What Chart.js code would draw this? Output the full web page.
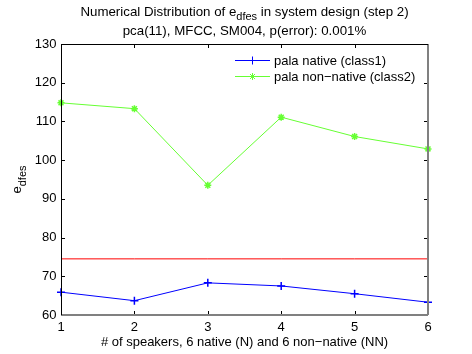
<!DOCTYPE html>
<html>
<head>
<meta charset="utf-8">
<script src="https://cdn.jsdelivr.net/npm/chart.js@4.4.0/dist/chart.umd.min.js"></script>
<style>
  html, body { margin: 0; padding: 0; background: #fff; }
</style>
</head>
<body>
<canvas id="edfesChart" width="472" height="354"></canvas>
<script>
// dados
const speakers = [1, 2, 3, 4, 5, 6];
const nativeValues = [65.9, 63.7, 68.3, 67.5, 65.5, 63.3];
const nonNativeValues = [114.8, 113.3, 93.5, 111.1, 106.1, 102.9];
const thresholdValues = [74.5, 74.5, 74.5, 74.5, 74.5, 74.5];
const xTicks = [1, 2, 3, 4, 5, 6];
const yTicks = [60, 70, 80, 90, 100, 110, 120, 130];
const seriesLabels = ['pala native (class1)', 'pala non\u2212native (class2)'];

const FONT = '"Liberation Sans", Arial, Helvetica, sans-serif';

function toPoints(values) {
  return speakers.map((s, i) => ({ x: s, y: values[i] }));
}

const matlabDecor = {
  id: 'matlabDecor',
  afterDatasetsDraw(chart) {
    const ctx = chart.ctx;
    const { left, right, top, bottom } = chart.chartArea;
    const xs = chart.scales.x;
    const ys = chart.scales.y;
    ctx.save();

    // ticks para dentro, nos quatro lados
    ctx.strokeStyle = '#000';
    ctx.lineWidth = 1;
    ctx.beginPath();
    xTicks.forEach(v => {
      const px = Math.round(xs.getPixelForValue(v)) + 0.5;
      ctx.moveTo(px, bottom); ctx.lineTo(px, bottom - 4);
      ctx.moveTo(px, top); ctx.lineTo(px, top + 4);
    });
    yTicks.forEach(v => {
      const py = Math.round(ys.getPixelForValue(v)) + 0.5;
      ctx.moveTo(left, py); ctx.lineTo(left + 4, py);
      ctx.moveTo(right, py); ctx.lineTo(right - 4, py);
    });
    ctx.stroke();

    // caixa: esquerda/topo preto, baixo/direita cinza
    ctx.strokeStyle = '#808080';
    ctx.lineWidth = 2;
    ctx.beginPath();
    ctx.moveTo(left, bottom); ctx.lineTo(right, bottom);
    ctx.moveTo(right, bottom); ctx.lineTo(right, top);
    ctx.stroke();
    ctx.strokeStyle = '#000';
    ctx.lineWidth = 1;
    ctx.beginPath();
    ctx.moveTo(left + 0.5, bottom); ctx.lineTo(left + 0.5, top + 0.5);
    ctx.lineTo(right, top + 0.5);
    ctx.stroke();

    // legenda
    const legendRows = [
      { y: 60.5, color: chart.data.datasets[0].borderColor, style: 'cross', r: 4 },
      { y: 76.5, color: chart.data.datasets[1].borderColor, style: 'star', r: 3.5 }
    ];
    legendRows.forEach((row, i) => {
      ctx.strokeStyle = row.color;
      ctx.lineWidth = 1;
      ctx.beginPath();
      ctx.moveTo(235, row.y); ctx.lineTo(270, row.y);
      ctx.stroke();
      Chart.helpers.drawPoint(ctx, { pointStyle: row.style, radius: row.r, borderWidth: 1.5 }, 252.5, row.y);
      ctx.fillStyle = '#000';
      ctx.font = '13px ' + FONT;
      ctx.textAlign = 'left';
      ctx.textBaseline = 'middle';
      ctx.fillText(seriesLabels[i], 274, row.y + 0.5);
    });

    // título (duas linhas)
    ctx.fillStyle = '#000';
    ctx.textBaseline = 'alphabetic';
    ctx.textAlign = 'left';
    const t1a = 'Numerical Distribution of e';
    const t1b = 'dfes';
    const t1c = ' in system design (step 2)';
    ctx.font = '13.3px ' + FONT;
    const wA = ctx.measureText(t1a).width;
    const wC = ctx.measureText(t1c).width;
    ctx.font = '11px ' + FONT;
    const wB = ctx.measureText(t1b).width;
    const cx = (left + right) / 2;
    const x0 = cx - (wA + wB + wC) / 2;
    ctx.font = '13.3px ' + FONT;
    ctx.fillText(t1a, x0, 15.5);
    ctx.font = '11px ' + FONT;
    ctx.fillText(t1b, x0 + wA, 20);
    ctx.font = '13.3px ' + FONT;
    ctx.fillText(t1c, x0 + wA + wB, 15.5);
    ctx.textAlign = 'center';
    ctx.fillText('pca(11), MFCC, SM004, p(error): 0.001%', cx, 35);

    // título do eixo x
    ctx.font = '13px ' + FONT;
    ctx.fillText('# of speakers, 6 native (N) and 6 non\u2212native (NN)', cx, 345.5);

    // título do eixo y (rotacionado)
    ctx.translate(21, (top + bottom) / 2);
    ctx.rotate(-Math.PI / 2);
    ctx.font = '13px ' + FONT;
    const wE = ctx.measureText('e').width;
    ctx.font = '11px ' + FONT;
    const wD = ctx.measureText('dfes').width;
    ctx.textAlign = 'left';
    const y0 = -(wE + wD) / 2;
    ctx.font = '13px ' + FONT;
    ctx.fillText('e', y0, 0);
    ctx.font = '11px ' + FONT;
    ctx.fillText('dfes', y0 + wE, 4.5);

    ctx.restore();
  }
};

new Chart(document.getElementById('edfesChart'), {
  type: 'line',
  data: {
    datasets: [
      {
        label: seriesLabels[0],
        data: toPoints(nativeValues),
        borderColor: '#0000ff',
        backgroundColor: '#0000ff',
        borderWidth: 1,
        pointStyle: 'cross',
        pointRadius: 4,
        pointBorderWidth: 1.5,
        tension: 0,
        clip: false
      },
      {
        label: seriesLabels[1],
        data: toPoints(nonNativeValues),
        borderColor: '#66ff33',
        backgroundColor: '#66ff33',
        borderWidth: 1,
        pointStyle: 'star',
        pointRadius: 3.5,
        pointBorderWidth: 1.5,
        tension: 0,
        clip: false
      },
      {
        label: 'threshold',
        data: toPoints(thresholdValues),
        borderColor: '#ff0000',
        borderWidth: 1,
        pointRadius: 0,
        tension: 0
      }
    ]
  },
  options: {
    responsive: false,
    animation: false,
    layout: { padding: { left: 0, right: 44, top: 44, bottom: 0 } },
    plugins: {
      legend: { display: false },
      title: { display: false },
      tooltip: { enabled: false }
    },
    scales: {
      x: {
        type: 'linear',
        min: 1,
        max: 6,
        grid: { display: false },
        border: { display: false },
        afterBuildTicks: s => { s.ticks = xTicks.map(v => ({ value: v })); },
        afterFit: s => { s.height = 39; },
        ticks: { color: '#000', font: { family: FONT, size: 13 }, padding: -3, maxRotation: 0, autoSkip: false }
      },
      y: {
        min: 60,
        max: 130,
        grid: { display: false },
        border: { display: false },
        afterBuildTicks: s => { s.ticks = yTicks.map(v => ({ value: v })); },
        afterFit: s => { s.width = 61; },
        ticks: { color: '#000', font: { family: FONT, size: 13 }, padding: -3.5 }
      }
    }
  },
  plugins: [matlabDecor]
});
</script>
</body>
</html>
